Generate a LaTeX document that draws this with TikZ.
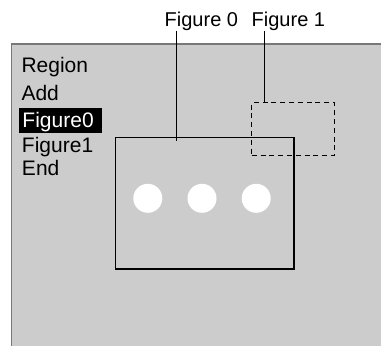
\documentclass[tikz,border=0pt]{standalone}
\usepackage{fontspec}
\setmainfont{Liberation Sans}
\begin{document}
\begin{tikzpicture}[x=1pt,y=-1pt,
  menutext/.style={anchor=base west,inner sep=0pt,font=\fontsize{21}{25}\selectfont},
  labeltext/.style={anchor=base west,inner sep=0pt,font=\fontsize{20}{24}\selectfont},
  fig/.style={draw=black,line width=1.3pt},
  leader/.style={draw=black,line width=0.9pt},
  dot/.style={circle,fill=white,draw=none,minimum size=29pt,inner sep=0pt}]
\useasboundingbox (0,0) rectangle (381,346);
\fill[white] (0,0) rectangle (381,346);
% panel
\fill[fill={rgb,255:red,204;green,204;blue,204}] (11.5,44) rectangle (381,346);
\draw[line width=1.6pt,draw={rgb,255:red,120;green,120;blue,120}] (11.5,346) -- (11.5,44) -- (381,44);
% menu
\node[menutext] (region) at (21.3,72.3) {Region};
\node[menutext] (add) at (21.3,100) {Add};
\fill[black] (19,108) rectangle (101.5,133);
\node[menutext,text=white] (fig0item) at (22.3,127.5) {Figure0};
\node[menutext] (fig1item) at (21.8,152) {Figure1};
\node[menutext] (end) at (21.8,175.5) {End};
% figures
\node[fig,dash pattern=on 5pt off 3.8pt,minimum width=82.6pt,minimum height=53pt,inner sep=0pt] (f1) at (293,129.2) {};
\node[fig,minimum width=178.7pt,minimum height=131.5pt,inner sep=0pt] (f0) at (204.65,203.25) {};
\node[dot] (c1) at (147.8,198.3) {};
\node[dot] (c2) at (202,198.3) {};
\node[dot] (c3) at (256.2,198.3) {};
% labels
\node[labeltext] (l0) at (164.5,26.3) {Figure 0};
\node[labeltext] (l1) at (251.5,26.3) {Figure 1};
\coordinate (l0foot) at (176,30.7);
\coordinate (l0end) at (176,140.7);
\coordinate (l1foot) at (264.3,30.7);
\draw[leader] (l0foot) -- (l0end);
\draw[leader] (l1foot) -- (l1foot |- f1.north);
\end{tikzpicture}
\end{document}
